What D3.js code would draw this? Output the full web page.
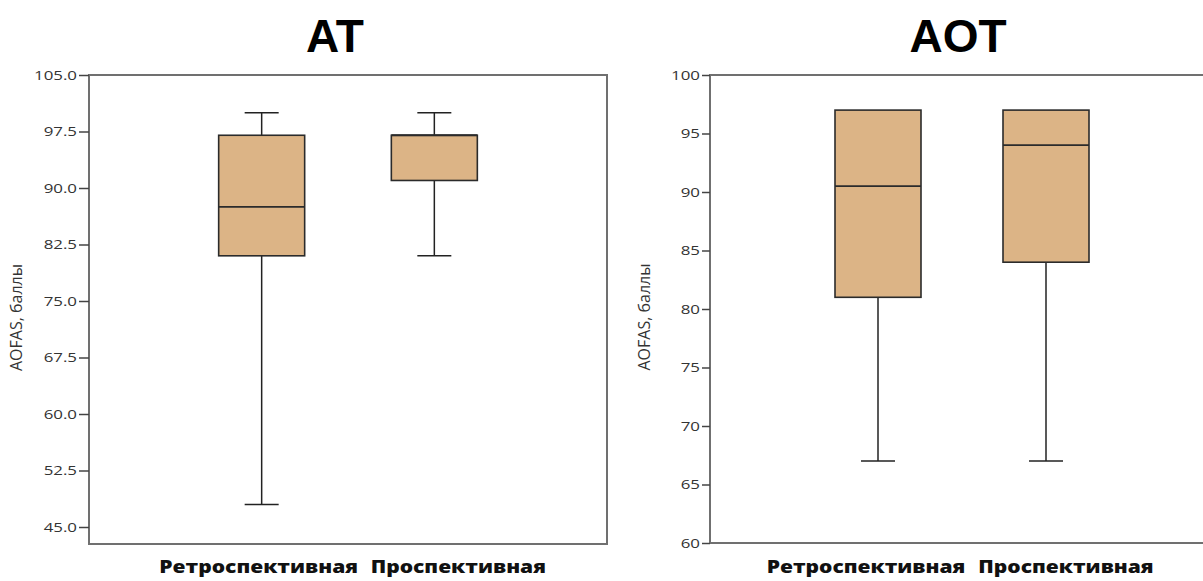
<!DOCTYPE html>
<html>
<head>
<meta charset="utf-8">
<script src="https://cdn.jsdelivr.net/npm/d3@7"></script>
<style>
  body { margin: 0; background: #fff; }
  svg { display: block; }
  .tick text { font-family: "Open Sans", "DejaVu Sans", sans-serif; font-size: 13.5px; fill: #333; }
</style>
</head>
<body>
<div id="chart"></div>
<script>
// groups on the x axis
const groups = ['Ретроспективная', 'Проспективная'];

// AT panel: min, q1, median, q3, max
const atMin = [48, 81];
const atQ1 = [81, 91];
const atMedian = [87.5, 97];
const atQ3 = [97, 97];
const atMax = [100, 100];
const atTicks = [45, 52.5, 60, 67.5, 75, 82.5, 90, 97.5, 105];

// AOT panel
const aotMin = [67, 67];
const aotQ1 = [81, 84];
const aotMedian = [90.5, 94];
const aotQ3 = [97, 97];
const aotMax = [97, 97];
const aotTicks = [60, 65, 70, 75, 80, 85, 90, 95, 100];

// the source picture is stretched sideways, so text gets widened too
const stretch = 1.25;
const labelStretch = 1.2;

const svg = d3.select('#chart')
    .append('svg')
    .attr('width', 1203)
    .attr('height', 581);

function drawPanel(opts) {
    const { left, right, top, bottom, axisBottom, domain, ticks, fmt, title, titleX, stats, labelX, labelDx, tickLen } = opts;

    const x = d3.scalePoint()
        .domain(groups)
        .range([left, right])
        .padding(1);

    const y = d3.scaleLinear()
        .domain(domain)
        .range([axisBottom, top]);

    const g = svg.append('g');

    // frame
    g.append('rect')
        .attr('x', left)
        .attr('y', top)
        .attr('width', right - left)
        .attr('height', bottom - top)
        .attr('fill', 'none')
        .attr('stroke', '#707070')
        .attr('stroke-width', 2);

    // y axis
    const axis = g.append('g')
        .attr('transform', `translate(${left},0)`)
        .call(d3.axisLeft(y).tickValues(ticks).tickFormat(fmt).tickSize(tickLen));
    axis.select('.domain').remove();
    axis.selectAll('.tick line').attr('stroke', '#444').attr('stroke-width', 1.5);
    axis.selectAll('.tick text')
        .attr('x', 0)
        .attr('transform', `translate(${-tickLen - 2},0) scale(${stretch},1)`);

    // y label
    g.append('text')
        .attr('transform', `translate(${labelX},${(top + bottom) / 2 + 8}) rotate(-90)`)
        .attr('text-anchor', 'middle')
        .style('font-family', '"Open Sans", "DejaVu Sans", sans-serif')
        .style('font-size', '16px')
        .style('fill', '#333')
        .text('AOFAS, баллы');

    const boxW = 86;
    const capW = 34;

    groups.forEach((grp, i) => {
        const cx = x(grp);
        // whiskers
        g.append('line')
            .attr('x1', cx).attr('x2', cx)
            .attr('y1', y(stats.max[i])).attr('y2', y(stats.q3[i]))
            .attr('stroke', '#222').attr('stroke-width', 1.5);
        g.append('line')
            .attr('x1', cx).attr('x2', cx)
            .attr('y1', y(stats.q1[i])).attr('y2', y(stats.min[i]))
            .attr('stroke', '#222').attr('stroke-width', 1.5);
        if (stats.max[i] > stats.q3[i]) {
            g.append('line')
                .attr('x1', cx - capW / 2).attr('x2', cx + capW / 2)
                .attr('y1', y(stats.max[i])).attr('y2', y(stats.max[i]))
                .attr('stroke', '#222').attr('stroke-width', 1.5);
        }
        if (stats.min[i] < stats.q1[i]) {
            g.append('line')
                .attr('x1', cx - capW / 2).attr('x2', cx + capW / 2)
                .attr('y1', y(stats.min[i])).attr('y2', y(stats.min[i]))
                .attr('stroke', '#222').attr('stroke-width', 1.5);
        }
        // box
        g.append('rect')
            .attr('x', cx - boxW / 2)
            .attr('y', y(stats.q3[i]))
            .attr('width', boxW)
            .attr('height', y(stats.q1[i]) - y(stats.q3[i]))
            .attr('fill', '#dcb486')
            .attr('stroke', '#2b2b2b')
            .attr('stroke-width', 1.6);
        // median
        g.append('line')
            .attr('x1', cx - boxW / 2).attr('x2', cx + boxW / 2)
            .attr('y1', y(stats.median[i])).attr('y2', y(stats.median[i]))
            .attr('stroke', '#2b2b2b').attr('stroke-width', 1.8);

        // category label
        g.append('text')
            .attr('transform', `translate(${cx + labelDx[i]},573) scale(${labelStretch},1)`)
            .attr('text-anchor', 'middle')
            .style('font-family', '"Open Sans", "DejaVu Sans", sans-serif')
            .style('font-weight', '800')
            .style('font-size', '17.5px')
            .style('fill', '#111')
            .text(grp);
    });

    // panel title
    svg.append('text')
        .attr('x', titleX)
        .attr('y', 52)
        .attr('text-anchor', 'middle')
        .style('font-family', '"Liberation Sans", Arial, sans-serif')
        .style('font-weight', 'bold')
        .style('font-size', '46px')
        .style('fill', '#000')
        .text(title);
}

drawPanel({
    left: 89, right: 607, top: 75, bottom: 544, axisBottom: 527,
    domain: [45, 105], ticks: atTicks, fmt: d3.format('.1f'), tickLen: 10,
    title: 'AT', titleX: 335, labelX: 22, labelDx: [-3, 24],
    stats: { min: atMin, q1: atQ1, median: atMedian, q3: atQ3, max: atMax }
});

drawPanel({
    left: 710, right: 1214, top: 75, bottom: 543, axisBottom: 543,
    domain: [60, 100], ticks: aotTicks, fmt: d3.format('d'), tickLen: 8,
    title: 'AOT', titleX: 958, labelX: 650, labelDx: [-12, 20],
    stats: { min: aotMin, q1: aotQ1, median: aotMedian, q3: aotQ3, max: aotMax }
});
</script>
</body>
</html>
